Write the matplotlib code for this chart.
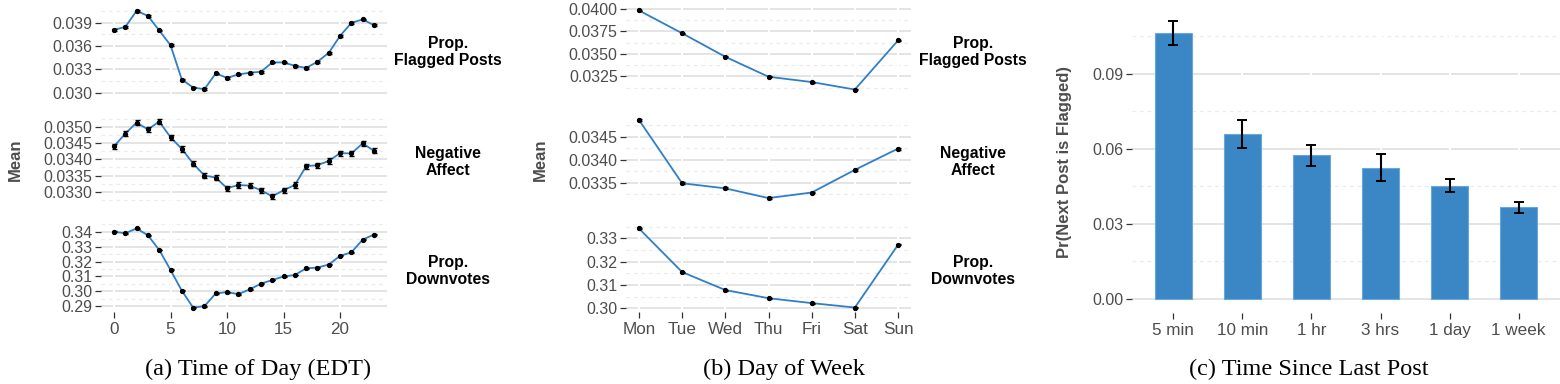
import matplotlib
matplotlib.use('Agg')
import matplotlib.pyplot as plt
from matplotlib.ticker import FixedLocator, FormatStrFormatter
import numpy as np

# ---------------- data ----------------
hours = list(range(24))
hour_ticks = [0, 5, 10, 15, 20]

tod_flagged = [0.0381, 0.03847, 0.04055, 0.03989, 0.03802, 0.03612, 0.03169, 0.03067,
               0.03045, 0.03249, 0.03191, 0.03235, 0.03257, 0.0327, 0.0339, 0.0339,
               0.03346, 0.03319, 0.03399, 0.03514, 0.03732, 0.039, 0.03944, 0.03869]
tod_flagged_err = [0.0001] * 24
tod_negative = [0.0344, 0.03479, 0.03513, 0.03492, 0.03516, 0.03468, 0.03432, 0.03387,
                0.0335, 0.03344, 0.03311, 0.03321, 0.03319, 0.03305, 0.03286, 0.03305,
                0.03321, 0.03379, 0.03382, 0.03395, 0.03419, 0.03418, 0.03449, 0.03426]
tod_negative_err = [0.00008] * 24
tod_downvotes = [0.340, 0.3391, 0.3423, 0.3377, 0.3278, 0.3144, 0.3004, 0.2891,
                 0.2900, 0.2986, 0.2995, 0.2981, 0.3013, 0.3052, 0.3076, 0.3100,
                 0.3110, 0.3155, 0.3160, 0.3180, 0.3239, 0.3262, 0.3348, 0.3382]
tod_downvotes_err = [0.0003] * 24

days = ['Mon', 'Tue', 'Wed', 'Thu', 'Fri', 'Sat', 'Sun']
dow_flagged = [0.03981, 0.03728, 0.03467, 0.03246, 0.03187, 0.03104, 0.03649]
dow_flagged_err = [0.00005] * 7
dow_negative = [0.03486, 0.03349, 0.03338, 0.03317, 0.03329, 0.03378, 0.03424]
dow_negative_err = [0.00002] * 7
dow_downvotes = [0.3343, 0.3156, 0.3079, 0.3044, 0.3023, 0.3004, 0.3273]
dow_downvotes_err = [0.0002] * 7

facet_labels = ['Prop.\nFlagged Posts', 'Negative\nAffect', 'Prop.\nDownvotes']

# ticks of each facet (major, minor, format)
tod_major = [[0.030, 0.033, 0.036, 0.039],
             [0.0330, 0.0335, 0.0340, 0.0345, 0.0350],
             [0.29, 0.30, 0.31, 0.32, 0.33, 0.34]]
tod_minor = [[0.0285, 0.0315, 0.0345, 0.0375, 0.0405],
             [0.03275, 0.03325, 0.03375, 0.03425, 0.03475, 0.03525],
             [0.285, 0.295, 0.305, 0.315, 0.325, 0.335, 0.345]]
tod_fmt = ['%.3f', '%.4f', '%.2f']
dow_major = [[0.0325, 0.0350, 0.0375, 0.0400],
             [0.0335, 0.0340, 0.0345],
             [0.30, 0.31, 0.32, 0.33]]
dow_minor = [[0.03125, 0.03375, 0.03625, 0.03875, 0.04125],
             [0.03325, 0.03375, 0.03425, 0.03475],
             [0.295, 0.305, 0.315, 0.325, 0.335]]
dow_fmt = ['%.4f', '%.4f', '%.2f']

gap_labels = ['5 min', '10 min', '1 hr', '3 hrs', '1 day', '1 week']
gap_prob = [0.1060, 0.0657, 0.0574, 0.0524, 0.0451, 0.0367]
gap_ci_low = [0.1013, 0.0602, 0.0532, 0.0471, 0.0426, 0.0345]
gap_ci_high = [0.1110, 0.0714, 0.0615, 0.0578, 0.0478, 0.0388]
gap_major = [0.00, 0.03, 0.06, 0.09]
gap_minor = [0.015, 0.045, 0.075, 0.105]

captions = ['(a) Time of Day (EDT)', '(b) Day of Week', '(c) Time Since Last Post']

# ---------------- style ----------------
W, H = 1560, 384
SANS = ['Liberation Sans', 'DejaVu Sans']
SERIF = ['Liberation Serif', 'DejaVu Serif']
LINE_BLUE = '#2f7fc8'
BAR_BLUE = '#3b87c6'
GRID_MAJ = '#e2e2e2'
GRID_MIN = '#ececec'
TICK_COL = '#333333'
LAB_COL = '#4d4d4d'
TICK_FS = 11.5

plt.rcParams['font.family'] = SANS

fig = plt.figure(figsize=(W / 100, H / 100), dpi=100)


def rect(x0, y0, x1, y1):
    return [x0 / W, 1 - y1 / H, (x1 - x0) / W, (y1 - y0) / H]


def ftext(x, y, s, **kw):
    fig.text(x / W, 1 - y / H, s, **kw)


def style_axes(ax):
    for s in ax.spines.values():
        s.set_visible(False)
    ax.set_facecolor('white')
    ax.tick_params(axis='both', length=4, width=0.9, color=TICK_COL,
                   labelcolor=LAB_COL, labelsize=TICK_FS, pad=2)


def line_panel(r, x, y, err, major, minor, fmt, xmajor, xlabels=None, bottom=False):
    ax = fig.add_axes(r)
    style_axes(ax)
    x = np.asarray(x, float)
    y = np.asarray(y, float)
    e = np.asarray(err, float)
    lo, hi = (y - e).min(), (y + e).max()
    pad = 0.05 * (hi - lo)
    ax.set_ylim(lo - pad, hi + pad)
    xp = 0.05 * (x.max() - x.min())
    ax.set_xlim(x.min() - xp, x.max() + xp)
    for v in minor:
        ax.axhline(v, color=GRID_MIN, lw=0.9, ls=(0, (3, 3)), zorder=0)
    for v in major:
        ax.axhline(v, color=GRID_MAJ, lw=1.3, zorder=0.1)
    for v in xmajor:
        ax.axvline(v, color='white', lw=1.6, zorder=0.2)
    ax.plot(x, y, color=LINE_BLUE, lw=1.3, zorder=2)
    ax.errorbar(x, y, yerr=e, fmt='o', color='black', ms=2.8, elinewidth=1.2,
                capsize=1.8, capthick=1.0, zorder=3)
    ax.yaxis.set_major_locator(FixedLocator(major))
    ax.yaxis.set_major_formatter(FormatStrFormatter(fmt))
    ax.set_xticks(xmajor)
    if bottom:
        if xlabels is not None:
            ax.set_xticklabels(xlabels)
        ax.tick_params(axis='x', labelsize=TICK_FS + 0.8, pad=3)
    else:
        ax.tick_params(axis='x', length=0, labelbottom=False)
    return ax


rows = [(6, 94), (115, 203), (224, 312)]

# ---------------- panel (a) ----------------
tod_series = [(tod_flagged, tod_flagged_err), (tod_negative, tod_negative_err),
              (tod_downvotes, tod_downvotes_err)]
for i, (yv, ev) in enumerate(tod_series):
    line_panel(rect(101, rows[i][0], 387, rows[i][1]), hours, yv, ev,
               tod_major[i], tod_minor[i], tod_fmt[i], hour_ticks,
               bottom=(i == 2))

# ---------------- panel (b) ----------------
day_pos = list(range(1, len(days) + 1))
dow_series = [(dow_flagged, dow_flagged_err), (dow_negative, dow_negative_err),
              (dow_downvotes, dow_downvotes_err)]
for i, (yv, ev) in enumerate(dow_series):
    line_panel(rect(626, rows[i][0], 911, rows[i][1]), day_pos, yv, ev,
               dow_major[i], dow_minor[i], dow_fmt[i], day_pos, xlabels=days,
               bottom=(i == 2))

# facet strip labels and axis titles
strip_y = [52, 162, 271]
for i, lab in enumerate(facet_labels):
    ftext(448, strip_y[i], lab, ha='center', va='center', fontsize=11.3,
          fontweight='bold', color='black', linespacing=1.15)
    ftext(973, strip_y[i], lab, ha='center', va='center', fontsize=11.3,
          fontweight='bold', color='black', linespacing=1.15)

ftext(15, 160, 'Mean', rotation=90, ha='center', va='center', fontsize=12,
      fontweight='bold', color=LAB_COL)
ftext(540, 160, 'Mean', rotation=90, ha='center', va='center', fontsize=12,
      fontweight='bold', color=LAB_COL)

# ---------------- panel (c) ----------------
axc = fig.add_axes(rect(1132, 7, 1560, 313))
style_axes(axc)
pos = np.arange(1, len(gap_labels) + 1)
prob = np.asarray(gap_prob)
lo_err = prob - np.asarray(gap_ci_low)
hi_err = np.asarray(gap_ci_high) - prob
top = max(gap_ci_high)
padc = 0.05 * top
axc.set_ylim(-padc, top + padc)
axc.set_xlim(0.4, len(gap_labels) + 0.6)
for v in gap_minor:
    axc.axhline(v, color=GRID_MIN, lw=0.9, ls=(0, (3, 3)), zorder=0)
for v in gap_major:
    axc.axhline(v, color=GRID_MAJ, lw=1.3, zorder=0.1)
for v in pos:
    axc.axvline(v, color='white', lw=1.6, zorder=0.2)
axc.bar(pos, prob, width=0.54, color=BAR_BLUE, edgecolor='#6aa6da', linewidth=0.8,
        zorder=2)
axc.errorbar(pos, prob, yerr=[lo_err, hi_err], fmt='none', ecolor='black',
             elinewidth=1.5, capsize=3.5, capthick=1.4, zorder=3)
axc.yaxis.set_major_locator(FixedLocator(gap_major))
axc.yaxis.set_major_formatter(FormatStrFormatter('%.2f'))
axc.set_xticks(pos)
axc.set_xticklabels(gap_labels)
axc.tick_params(axis='x', labelsize=TICK_FS + 0.8, pad=3)
ftext(1065, 162, 'Pr(Next Post is Flagged)', rotation=90, ha='center', va='center',
      fontsize=12, fontweight='bold', color=LAB_COL)

# ---------------- captions ----------------
cap_x = [258, 784, 1309]
for cx, cap in zip(cap_x, captions):
    ftext(cx, 369, cap, ha='center', va='center', fontsize=17.5, family=SERIF,
          color='black')

fig.savefig('out.png', dpi=100, facecolor='white')
